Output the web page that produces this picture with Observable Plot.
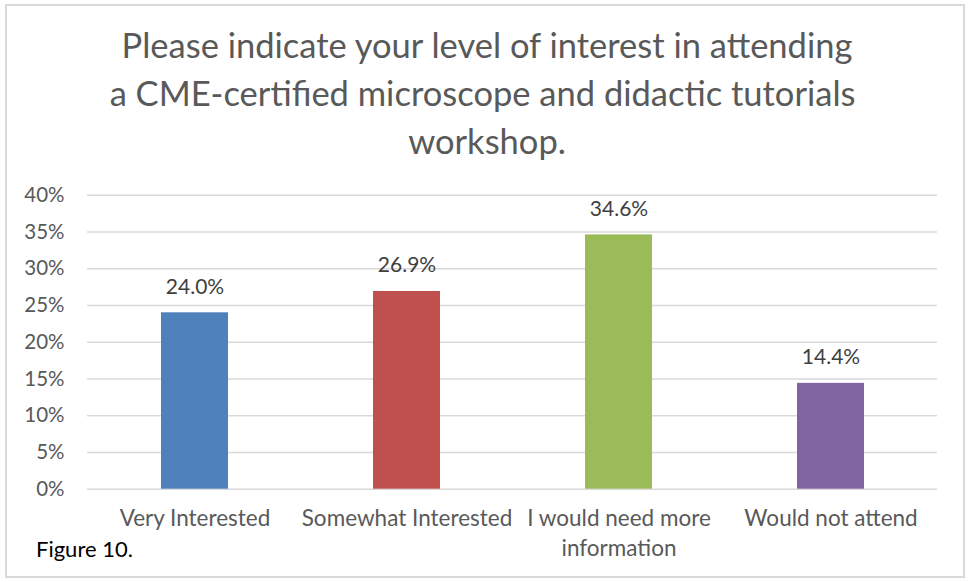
<!DOCTYPE html>
<html>
<head>
<meta charset="utf-8">
<script src="https://cdn.jsdelivr.net/npm/d3@7"></script>
<script src="https://cdn.jsdelivr.net/npm/@observablehq/plot@0.6"></script>
<style>
  html, body { margin: 0; padding: 0; background: #fff; }
  #wrap { position: relative; width: 969px; height: 582px; overflow: hidden; font-family: Lato, sans-serif; }
  #frame { position: absolute; left: 5px; top: 4px; width: 960px; height: 574px; box-sizing: border-box; border: 2px solid #d9d9d9; }
  #title { position: absolute; left: 0; width: 974px; top: 21px; text-align: center; color: #595959; font-size: 34.5px; line-height: 48px; }
  #chart { position: absolute; left: 0; top: 170px; }
  #caption { position: absolute; left: 36px; top: 535px; color: #000; font-size: 22px; }
</style>
</head>
<body>
<div id="wrap">
  <div id="frame"></div>
  <div id="title">Please indicate your level of interest in attending<br>a CME-certified microscope and didactic tutorials&nbsp;<br>workshop.</div>
  <div id="chart"></div>
  <div id="caption">Figure 10.</div>
</div>
<script>
const categories = ["Very Interested", "Somewhat Interested", "I would need more information", "Would not attend"];
const xTickLabels = ["Very Interested", "Somewhat Interested", "I would need more\ninformation", "Would not attend"];
const values = [0.240, 0.269, 0.346, 0.144];
const valueLabels = ["24.0%", "26.9%", "34.6%", "14.4%"];
const barColors = ["#4f81bd", "#c0504d", "#9bbb59", "#8064a2"];
const yTicks = [0, 0.05, 0.10, 0.15, 0.20, 0.25, 0.30, 0.35, 0.40];

const data = categories.map((c, i) => ({category: c, value: values[i], label: valueLabels[i], color: barColors[i]}));
const tickMap = new Map(categories.map((c, i) => [c, xTickLabels[i]]));

const chart = Plot.plot({
  width: 969,
  height: 412,
  marginLeft: 87,
  marginRight: 32,
  marginTop: 24.7,
  marginBottom: 93.3,
  style: {fontFamily: "Lato, sans-serif", background: "transparent", overflow: "visible"},
  x: {domain: categories, paddingInner: 0.685, paddingOuter: 0.3425, label: null},
  y: {domain: [0, 0.4], label: null},
  marks: [
    Plot.gridY(yTicks, {stroke: "#d9d9d9", strokeOpacity: 1, strokeWidth: 1.5}),
    Plot.barY(data, {x: "category", y: "value", fill: "color"}),
    Plot.text(data, {x: "category", y: "value", text: "label", lineAnchor: "bottom", dy: -19, fontSize: 21, fill: "#404040"}),
    Plot.axisY({ticks: yTicks, tickFormat: d3.format(".0%"), tickSize: 0, tickPadding: 23, fontSize: 20.5, color: "#595959", label: null}),
    Plot.axisX({tickSize: 0, tickPadding: 16, fontSize: 22.5, lineHeight: 1.33, tickFormat: d => tickMap.get(d), color: "#595959", label: null, lineAnchor: "top"})
  ]
});
document.getElementById("chart").appendChild(chart);
</script>
</body>
</html>
